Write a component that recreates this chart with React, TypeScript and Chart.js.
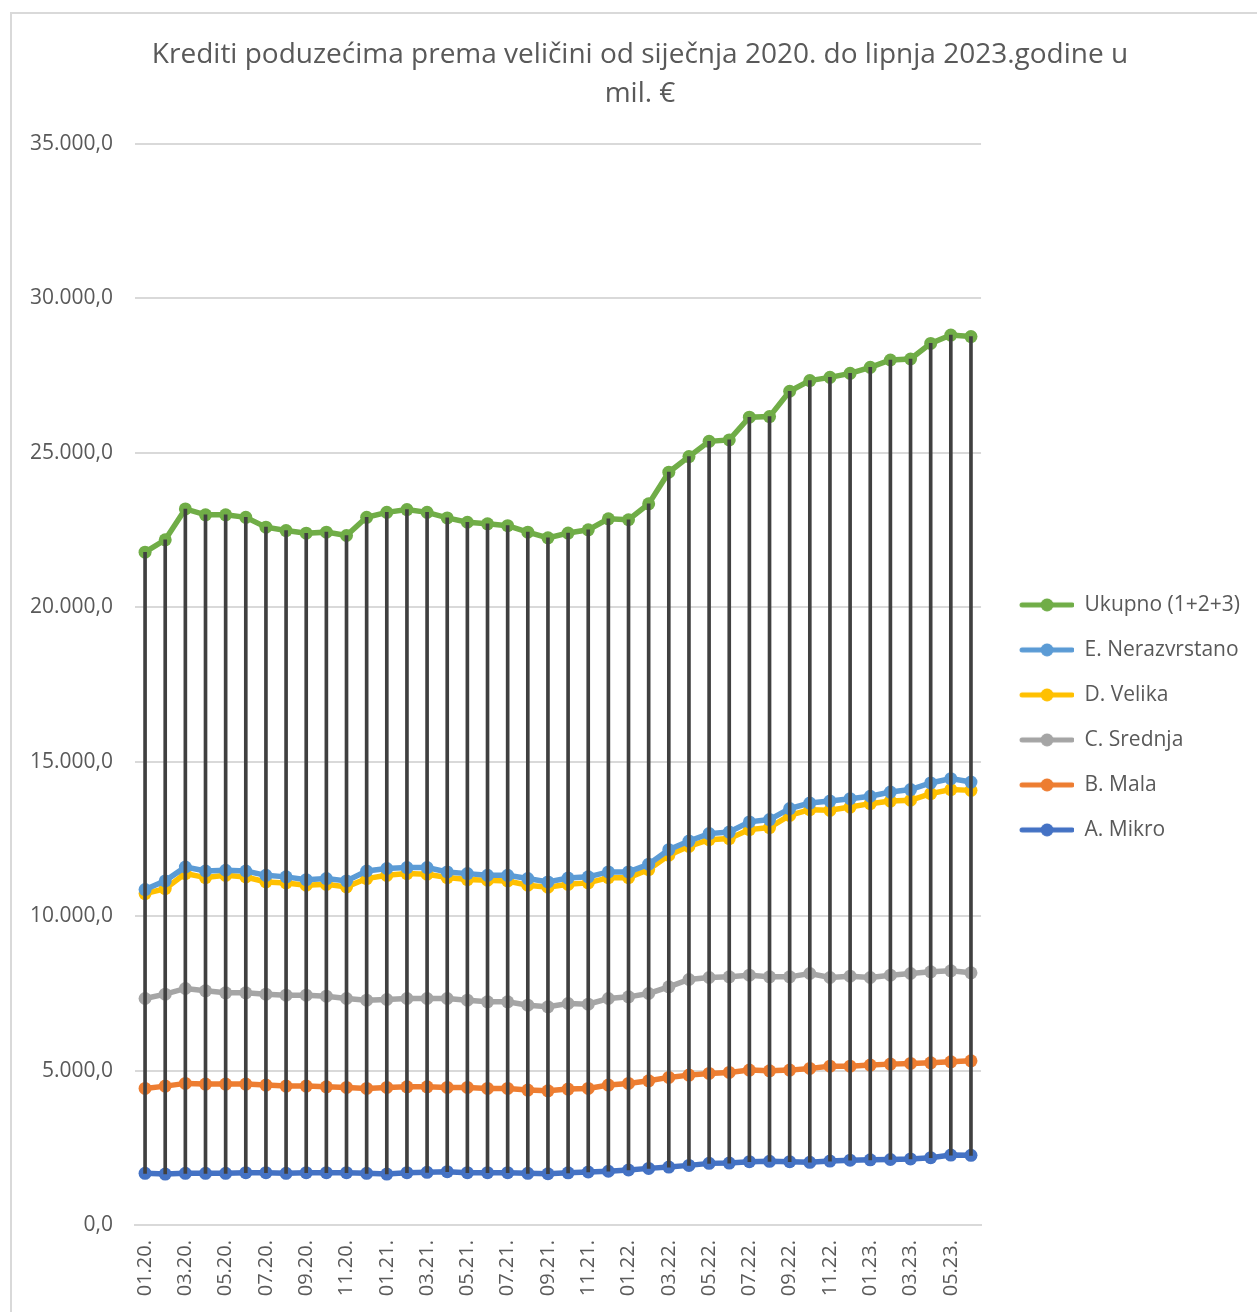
import { useEffect, useRef } from "react";
import { Chart, ChartConfiguration, registerables } from "chart.js";

Chart.register(...registerables);

const MONTHS = [
  '01.20.', '02.20.', '03.20.', '04.20.', '05.20.', '06.20.', '07.20.', '08.20.', '09.20.', '10.20.', '11.20.', '12.20.',
  '01.21.', '02.21.', '03.21.', '04.21.', '05.21.', '06.21.', '07.21.', '08.21.', '09.21.', '10.21.', '11.21.', '12.21.',
  '01.22.', '02.22.', '03.22.', '04.22.', '05.22.', '06.22.', '07.22.', '08.22.', '09.22.', '10.22.', '11.22.', '12.22.',
  '01.23.', '02.23.', '03.23.', '04.23.', '05.23.', '06.23.',
];

const UKUPNO = [
  21780, 22180, 23180, 22990, 22990, 22910, 22590, 22480, 22395, 22430, 22320, 22910,
  23070, 23160, 23070, 22890, 22750, 22700, 22640, 22430, 22245, 22400, 22505, 22860,
  22830, 23345, 24370, 24875, 25370, 25415, 26150, 26170, 26990, 27335, 27440, 27570,
  27765, 28003, 28035, 28540, 28810, 28760,
];

const NERAZVRSTANO = [
  10860, 11140, 11590, 11460, 11485, 11460, 11320, 11270, 11180, 11215, 11140, 11460,
  11540, 11570, 11570, 11430, 11375, 11320, 11320, 11215, 11105, 11230, 11270, 11430,
  11430, 11680, 12150, 12430, 12670, 12720, 13050, 13125, 13480, 13660, 13725, 13800,
  13880, 14015, 14095, 14310, 14450, 14340,
];

const VELIKA = [
  10730, 10890, 11377, 11247, 11320, 11267, 11105, 11073, 10998, 11030, 10945, 11215,
  11320, 11377, 11355, 11247, 11183, 11160, 11137, 10998, 10935, 11030, 11075, 11245,
  11245, 11505, 11970, 12260, 12475, 12510, 12800, 12865, 13260, 13445, 13425, 13530,
  13640, 13725, 13750, 13965, 14095, 14070,
];

const SREDNJA = [
  7333, 7472, 7657, 7580, 7515, 7515, 7472, 7440, 7440, 7408, 7333, 7278,
  7300, 7333, 7333, 7333, 7278, 7224, 7224, 7117, 7063, 7170, 7149, 7333,
  7386, 7495, 7710, 7948, 8013, 8033, 8087, 8033, 8033, 8142, 8013, 8055,
  8013, 8087, 8142, 8195, 8227, 8163,
];

const MALA = [
  4422, 4496, 4584, 4561, 4561, 4561, 4529, 4496, 4496, 4474, 4454, 4422,
  4454, 4474, 4474, 4454, 4454, 4422, 4422, 4367, 4344, 4400, 4422, 4529,
  4584, 4668, 4778, 4852, 4907, 4940, 5014, 4991, 5014, 5069, 5143, 5143,
  5176, 5208, 5231, 5250, 5282, 5315,
];

const MIKRO = [
  1672, 1650, 1672, 1672, 1672, 1693, 1693, 1672, 1693, 1693, 1693, 1672,
  1650, 1693, 1704, 1725, 1693, 1693, 1693, 1672, 1660, 1690, 1715, 1740,
  1780, 1833, 1875, 1930, 1995, 2005, 2049, 2060, 2049, 2030, 2070, 2100,
  2110, 2120, 2140, 2180, 2264, 2255,
];

const SERIES = [
  { label: 'Ukupno (1+2+3)', data: UKUPNO, color: '#70AD47' },
  { label: 'E. Nerazvrstano', data: NERAZVRSTANO, color: '#5B9BD5' },
  { label: 'D. Velika', data: VELIKA, color: '#FFC000' },
  { label: 'C. Srednja', data: SREDNJA, color: '#A5A5A5' },
  { label: 'B. Mala', data: MALA, color: '#ED7D31' },
  { label: 'A. Mikro', data: MIKRO, color: '#4472C4' },
];

const TEXT = '#595959';
const FONT = "'Open Sans', sans-serif";
const ICON_W = 69;

const fmt = (v: number) => {
  const [i, d] = v.toFixed(1).split('.');
  return i.replace(/\B(?=(\d{3})+(?!\d))/g, '.') + ',' + d;
};

// legend symbol: line with a marker, like Excel
function makeIcon(color: string) {
  const c = document.createElement('canvas');
  c.width = ICON_W;
  c.height = 14;
  const g = c.getContext('2d')!;
  g.strokeStyle = color;
  g.lineWidth = 5;
  g.lineCap = 'round';
  g.beginPath();
  g.moveTo(ICON_W - 52, 7);
  g.lineTo(ICON_W - 2, 7);
  g.stroke();
  g.fillStyle = color;
  g.beginPath();
  g.arc(ICON_W - 27, 7, 6.5, 0, Math.PI * 2);
  g.fill();
  return c;
}

export default function App() {
  const canvasRef = useRef<HTMLCanvasElement>(null);
  const chartRef = useRef<Chart | null>(null);

  useEffect(() => {
    if (!canvasRef.current) return;
    if (chartRef.current) chartRef.current.destroy();

    const icons = SERIES.map(s => makeIcon(s.color));
    // high-low lines from the lowest to the highest series value
    const highLow = MONTHS.map((_, i) => {
      const vals = SERIES.map(s => s.data[i]);
      return [Math.min(...vals), Math.max(...vals)];
    });

    const config: ChartConfiguration = {
      type: 'line',
      data: {
        labels: MONTHS,
        datasets: [
          {
            type: 'bar',
            label: 'hl',
            data: highLow as any,
            backgroundColor: '#404040',
            barThickness: 3,
            order: 0,
          } as any,
          ...SERIES.map(s => ({
            type: 'line' as const,
            label: s.label,
            data: s.data,
            borderColor: s.color,
            backgroundColor: s.color,
            borderWidth: 5.5,
            pointRadius: 6.5,
            pointBorderWidth: 0,
            pointBackgroundColor: s.color,
            tension: 0,
            order: 1,
          })),
        ],
      },
      options: {
        responsive: true,
        maintainAspectRatio: false,
        animation: false,
        layout: { padding: { left: 30, right: 40, top: 0, bottom: 0 } },
        font: { family: FONT },
        plugins: {
          title: {
            display: true,
            text: ['Krediti poduzećima prema veličini od siječnja 2020. do lipnja 2023.godine u', 'mil. €'],
            color: TEXT,
            font: { family: FONT, size: 28, weight: 'normal', lineHeight: 1.39 },
            padding: { top: 36, bottom: 30 },
          },
          legend: {
            position: 'right',
            fullSize: false,
            title: { display: true, text: ' ', font: { size: 1, lineHeight: 1 }, padding: { top: 33, bottom: 32 } },
            labels: {
              usePointStyle: true,
              pointStyleWidth: ICON_W,
              color: TEXT,
              font: { family: FONT, size: 21 },
              padding: 24,
              filter: (item) => item.datasetIndex !== 0,
              generateLabels: (chart) => {
                const items = Chart.defaults.plugins.legend.labels.generateLabels(chart);
                return items.map(it => ({
                  ...it,
                  pointStyle: it.datasetIndex! > 0 ? icons[it.datasetIndex! - 1] : it.pointStyle,
                }));
              },
            },
          },
          tooltip: { enabled: false },
        },
        scales: {
          x: {
            offset: true,
            grid: { display: false, drawTicks: false },
            border: { display: true, color: '#d9d9d9', width: 2 },
            afterFit: (scale) => { scale.height = 105; },
            ticks: {
              autoSkip: false,
              maxRotation: 90,
              minRotation: 90,
              padding: 15,
              color: TEXT,
              font: { family: FONT, size: 20 },
              callback: (_v, i) => (i % 2 === 0 ? MONTHS[i] : ''),
            },
          },
          y: {
            min: 0,
            max: 35000,
            grid: { color: '#d9d9d9', lineWidth: 2, drawTicks: false },
            border: { display: false },
            afterFit: (scale) => { scale.width = 105; },
            ticks: {
              stepSize: 5000,
              padding: 22,
              color: TEXT,
              font: { family: FONT, size: 21 },
              callback: (v) => fmt(Number(v)),
            },
          },
        },
      },
    };

    chartRef.current = new Chart(canvasRef.current, config);

    return () => {
      if (chartRef.current) {
        chartRef.current.destroy();
        chartRef.current = null;
      }
    };
  }, []);

  return (
    <div style={{ position: 'fixed', left: 0, top: 0, width: 1257, height: 1312, overflow: 'hidden', background: '#fff' }}>
      <div style={{ position: 'absolute', left: 10, top: 12, width: 1400, height: 1400, border: '2px solid #d9d9d9' }} />
      <div style={{ position: 'absolute', left: 0, top: 0, width: 1290, height: 1330 }}>
        <canvas ref={canvasRef} />
      </div>
    </div>
  );
}
